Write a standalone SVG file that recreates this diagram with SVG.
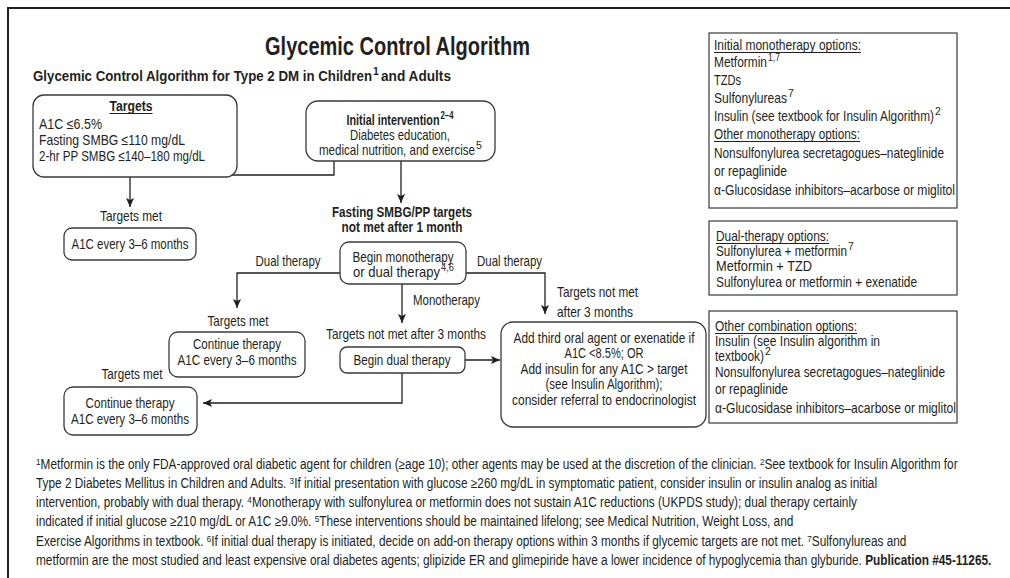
<svg xmlns="http://www.w3.org/2000/svg" width="1010" height="578" viewBox="0 0 1010 578">
<defs>
<style>
.t{font-family:"Liberation Sans",Arial,sans-serif;font-size:14.5px;fill:#231f20}
.b{font-weight:bold}
.m{text-anchor:middle}
.sup{font-size:10.5px}
.fs{font-size:9.5px}
.h1{font-size:25px}
.h2{font-size:15.5px}
.box{fill:#fff;stroke:#3a3a3a;stroke-width:1.3}
.sq{fill:#fff;stroke:#3a3a3a;stroke-width:1.2}
.c{fill:none;stroke:#231f20;stroke-width:1.3}
.u{stroke:#231f20;stroke-width:1}
.fn{font-family:"Liberation Sans",Arial,sans-serif;font-size:13.8px;fill:#231f20}
</style>
<marker id="ah" markerWidth="9" markerHeight="8" refX="9" refY="4" orient="auto" markerUnits="userSpaceOnUse">
<path d="M0,0 L9,4 L0,8 L2,4 z" fill="#231f20"/>
</marker>
</defs>
<rect width="1010" height="578" fill="#fff"/>
<path d="M8,578 V8 H1010" fill="none" stroke="#231f20" stroke-width="2"/>

<g id="title">
<text class="t b m h1" x="397.5" y="55" textLength="265" lengthAdjust="spacingAndGlyphs">Glycemic Control Algorithm</text>
<text class="t b h2" x="33" y="81" textLength="339" lengthAdjust="spacingAndGlyphs">Glycemic Control Algorithm for Type 2 DM in Children</text>
<text class="t b sup" x="373" y="75">1</text>
<text class="t b h2" x="381" y="81" textLength="70" lengthAdjust="spacingAndGlyphs">and Adults</text>
</g>

<g id="connectors">
<path class="c" d="M334,161 V175 H130 V207" marker-end="url(#ah)"/>
<path class="c" d="M401,161 V203" marker-end="url(#ah)"/>
<path class="c" d="M340,273 H237 V308" marker-end="url(#ah)"/>
<path class="c" d="M466,273 H545 V314" marker-end="url(#ah)"/>
<path class="c" d="M402,284 V323" marker-end="url(#ah)"/>
<path class="c" d="M465,360 H500" marker-end="url(#ah)"/>
<path class="c" d="M402,373 V403 H203" marker-end="url(#ah)"/>
</g>

<g id="targets">
<rect class="box" x="33" y="95" width="204" height="82" rx="11"/>
<text class="t b m" x="131" y="111" textLength="43" lengthAdjust="spacingAndGlyphs">Targets</text>
<line class="u" x1="109.5" y1="113.5" x2="152.5" y2="113.5"/>
<text class="t" x="39" y="129" textLength="63" lengthAdjust="spacingAndGlyphs">A1C ≤6.5%</text>
<text class="t" x="39" y="145" textLength="146" lengthAdjust="spacingAndGlyphs">Fasting SMBG ≤110 mg/dL</text>
<text class="t" x="39" y="161" textLength="166" lengthAdjust="spacingAndGlyphs">2-hr PP SMBG ≤140–180 mg/dL</text>
</g>

<g id="initial">
<rect class="box" x="306" y="101" width="189" height="60" rx="12"/>
<text class="t b" x="346.5" y="125" textLength="93" lengthAdjust="spacingAndGlyphs">Initial intervention</text>
<text class="t b sup" x="440.5" y="119" textLength="13" lengthAdjust="spacingAndGlyphs">2–4</text>
<text class="t m" x="400" y="140" textLength="100" lengthAdjust="spacingAndGlyphs">Diabetes education,</text>
<text class="t" x="319" y="155" textLength="156" lengthAdjust="spacingAndGlyphs">medical nutrition, and exercise</text>
<text class="t sup" x="476" y="149">5</text>
</g>

<g id="met1">
<text class="t m" x="131" y="221" textLength="62" lengthAdjust="spacingAndGlyphs">Targets met</text>
<rect class="box" x="64" y="228" width="132" height="32" rx="8"/>
<text class="t m" x="130" y="249" textLength="117" lengthAdjust="spacingAndGlyphs">A1C every 3–6 months</text>
</g>

<g id="fasting">
<text class="t b m" x="402" y="217" textLength="140" lengthAdjust="spacingAndGlyphs">Fasting SMBG/PP targets</text>
<text class="t b m" x="402" y="232" textLength="121" lengthAdjust="spacingAndGlyphs">not met after 1 month</text>
</g>

<g id="begin-mono">
<rect class="box" x="340" y="242" width="126" height="42" rx="9"/>
<text class="t m" x="403" y="262" textLength="101" lengthAdjust="spacingAndGlyphs">Begin monotherapy</text>
<text class="t" x="353" y="277" textLength="87" lengthAdjust="spacingAndGlyphs">or dual therapy</text>
<text class="t sup" x="441" y="271" textLength="13" lengthAdjust="spacingAndGlyphs">4,6</text>
</g>

<g id="labels">
<text class="t m" x="288" y="266" textLength="65" lengthAdjust="spacingAndGlyphs">Dual therapy</text>
<text class="t" x="477" y="266" textLength="65" lengthAdjust="spacingAndGlyphs">Dual therapy</text>
<text class="t" x="413" y="305" textLength="67" lengthAdjust="spacingAndGlyphs">Monotherapy</text>
<text class="t" x="557" y="297" textLength="81" lengthAdjust="spacingAndGlyphs">Targets not met</text>
<text class="t" x="557" y="317" textLength="76" lengthAdjust="spacingAndGlyphs">after 3 months</text>
<text class="t m" x="238" y="326" textLength="61" lengthAdjust="spacingAndGlyphs">Targets met</text>
<text class="t m" x="406" y="339" textLength="160" lengthAdjust="spacingAndGlyphs">Targets not met after 3 months</text>
<text class="t m" x="132" y="379" textLength="61" lengthAdjust="spacingAndGlyphs">Targets met</text>
</g>

<g id="continue-mid">
<rect class="box" x="169" y="332" width="136" height="45" rx="9"/>
<text class="t m" x="237" y="349" textLength="88" lengthAdjust="spacingAndGlyphs">Continue therapy</text>
<text class="t m" x="237" y="365" textLength="119" lengthAdjust="spacingAndGlyphs">A1C every 3–6 months</text>
</g>

<g id="begin-dual">
<rect class="box" x="340" y="347" width="125" height="26" rx="7"/>
<text class="t m" x="402" y="365" textLength="97" lengthAdjust="spacingAndGlyphs">Begin dual therapy</text>
</g>

<g id="third">
<rect class="box" x="501" y="322" width="205" height="105" rx="12"/>
<text class="t m" x="604" y="343" textLength="181" lengthAdjust="spacingAndGlyphs">Add third oral agent or exenatide if</text>
<text class="t m" x="604" y="358" textLength="79" lengthAdjust="spacingAndGlyphs">A1C &lt;8.5%; OR</text>
<text class="t m" x="604" y="374" textLength="167" lengthAdjust="spacingAndGlyphs">Add insulin for any A1C &gt; target</text>
<text class="t m" x="604" y="389" textLength="117" lengthAdjust="spacingAndGlyphs">(see Insulin Algorithm);</text>
<text class="t m" x="604" y="405" textLength="184" lengthAdjust="spacingAndGlyphs">consider referral to endocrinologist</text>
</g>

<g id="continue-low">
<rect class="box" x="64" y="387" width="133" height="48" rx="9"/>
<text class="t m" x="130" y="408" textLength="89" lengthAdjust="spacingAndGlyphs">Continue therapy</text>
<text class="t m" x="130" y="424" textLength="118" lengthAdjust="spacingAndGlyphs">A1C every 3–6 months</text>
</g>

<g id="mono-options">
<rect class="sq" x="709" y="33" width="248" height="175"/>
<text class="t" x="714" y="50" textLength="147" lengthAdjust="spacingAndGlyphs">Initial monotherapy options:</text>
<line class="u" x1="714" y1="52.5" x2="861" y2="52.5"/>
<text class="t" x="714" y="67" textLength="53" lengthAdjust="spacingAndGlyphs">Metformin</text>
<text class="t sup" x="768" y="61" textLength="12" lengthAdjust="spacingAndGlyphs">1,7</text>
<text class="t" x="714" y="85" textLength="27" lengthAdjust="spacingAndGlyphs">TZDs</text>
<text class="t" x="714" y="103" textLength="73" lengthAdjust="spacingAndGlyphs">Sulfonylureas</text>
<text class="t sup" x="788" y="97">7</text>
<text class="t" x="714" y="121" textLength="220" lengthAdjust="spacingAndGlyphs">Insulin (see textbook for Insulin Algorithm)</text>
<text class="t sup" x="935" y="115">2</text>
<text class="t" x="714" y="139" textLength="146" lengthAdjust="spacingAndGlyphs">Other monotherapy options:</text>
<line class="u" x1="714" y1="141.5" x2="860" y2="141.5"/>
<text class="t" x="714" y="158" textLength="230" lengthAdjust="spacingAndGlyphs">Nonsulfonylurea secretagogues–nateglinide</text>
<text class="t" x="714" y="176" textLength="73" lengthAdjust="spacingAndGlyphs">or repaglinide</text>
<text class="t" x="714" y="195" textLength="241" lengthAdjust="spacingAndGlyphs">α-Glucosidase inhibitors–acarbose or miglitol</text>
</g>

<g id="dual-options">
<rect class="sq" x="709" y="221" width="248" height="74"/>
<text class="t" x="716" y="241" textLength="113" lengthAdjust="spacingAndGlyphs">Dual-therapy options:</text>
<line class="u" x1="716" y1="243.5" x2="829" y2="243.5"/>
<text class="t" x="716" y="256" textLength="131" lengthAdjust="spacingAndGlyphs">Sulfonylurea + metformin</text>
<text class="t sup" x="848" y="250">7</text>
<text class="t" x="716" y="271" textLength="96" lengthAdjust="spacingAndGlyphs">Metformin + TZD</text>
<text class="t" x="716" y="287" textLength="201" lengthAdjust="spacingAndGlyphs">Sulfonylurea or metformin + exenatide</text>
</g>

<g id="combo-options">
<rect class="sq" x="709" y="311" width="248" height="112"/>
<text class="t" x="715" y="331" textLength="142" lengthAdjust="spacingAndGlyphs">Other combination options:</text>
<line class="u" x1="715" y1="333.5" x2="857" y2="333.5"/>
<text class="t" x="715" y="346" textLength="165" lengthAdjust="spacingAndGlyphs">Insulin (see Insulin algorithm in</text>
<text class="t" x="715" y="361" textLength="49" lengthAdjust="spacingAndGlyphs">textbook)</text>
<text class="t sup" x="765" y="355">2</text>
<text class="t" x="715" y="377" textLength="230" lengthAdjust="spacingAndGlyphs">Nonsulfonylurea secretagogues–nateglinide</text>
<text class="t" x="715" y="394" textLength="73" lengthAdjust="spacingAndGlyphs">or repaglinide</text>
<text class="t" x="715" y="413" textLength="241" lengthAdjust="spacingAndGlyphs">α-Glucosidase inhibitors–acarbose or miglitol</text>
</g>

<g id="footnotes" transform="translate(36,0) scale(0.857,1)">
<text class="fn" x="0" y="469"><tspan class="fs" dy="-4">1</tspan><tspan dy="4">Metformin is the only FDA-approved oral diabetic agent for children (≥age 10); other agents may be used at the discretion of the clinician. </tspan><tspan class="fs" dy="-4">2</tspan><tspan dy="4">See textbook for Insulin Algorithm for</tspan></text>
<text class="fn" x="0" y="488">Type 2 Diabetes Mellitus in Children and Adults. <tspan class="fs" dy="-4">3</tspan><tspan dy="4">If initial presentation with glucose ≥260 mg/dL in symptomatic patient, consider insulin or insulin analog as initial</tspan></text>
<text class="fn" x="0" y="507">intervention, probably with dual therapy. <tspan class="fs" dy="-4">4</tspan><tspan dy="4">Monotherapy with sulfonylurea or metformin does not sustain A1C reductions (UKPDS study); dual therapy certainly</tspan></text>
<text class="fn" x="0" y="526">indicated if initial glucose ≥210 mg/dL or A1C ≥9.0%. <tspan class="fs" dy="-4">5</tspan><tspan dy="4">These interventions should be maintained lifelong; see Medical Nutrition, Weight Loss, and</tspan></text>
<text class="fn" x="0" y="546">Exercise Algorithms in textbook. <tspan class="fs" dy="-4">6</tspan><tspan dy="4">If initial dual therapy is initiated, decide on add-on therapy options within 3 months if glycemic targets are not met. </tspan><tspan class="fs" dy="-4">7</tspan><tspan dy="4">Sulfonylureas and</tspan></text>
<text class="fn" x="0" y="565">metformin are the most studied and least expensive oral diabetes agents; glipizide ER and glimepiride have a lower incidence of hypoglycemia than glyburide. <tspan font-weight="bold">Publication #45-11265.</tspan></text>
</g>
</svg>
